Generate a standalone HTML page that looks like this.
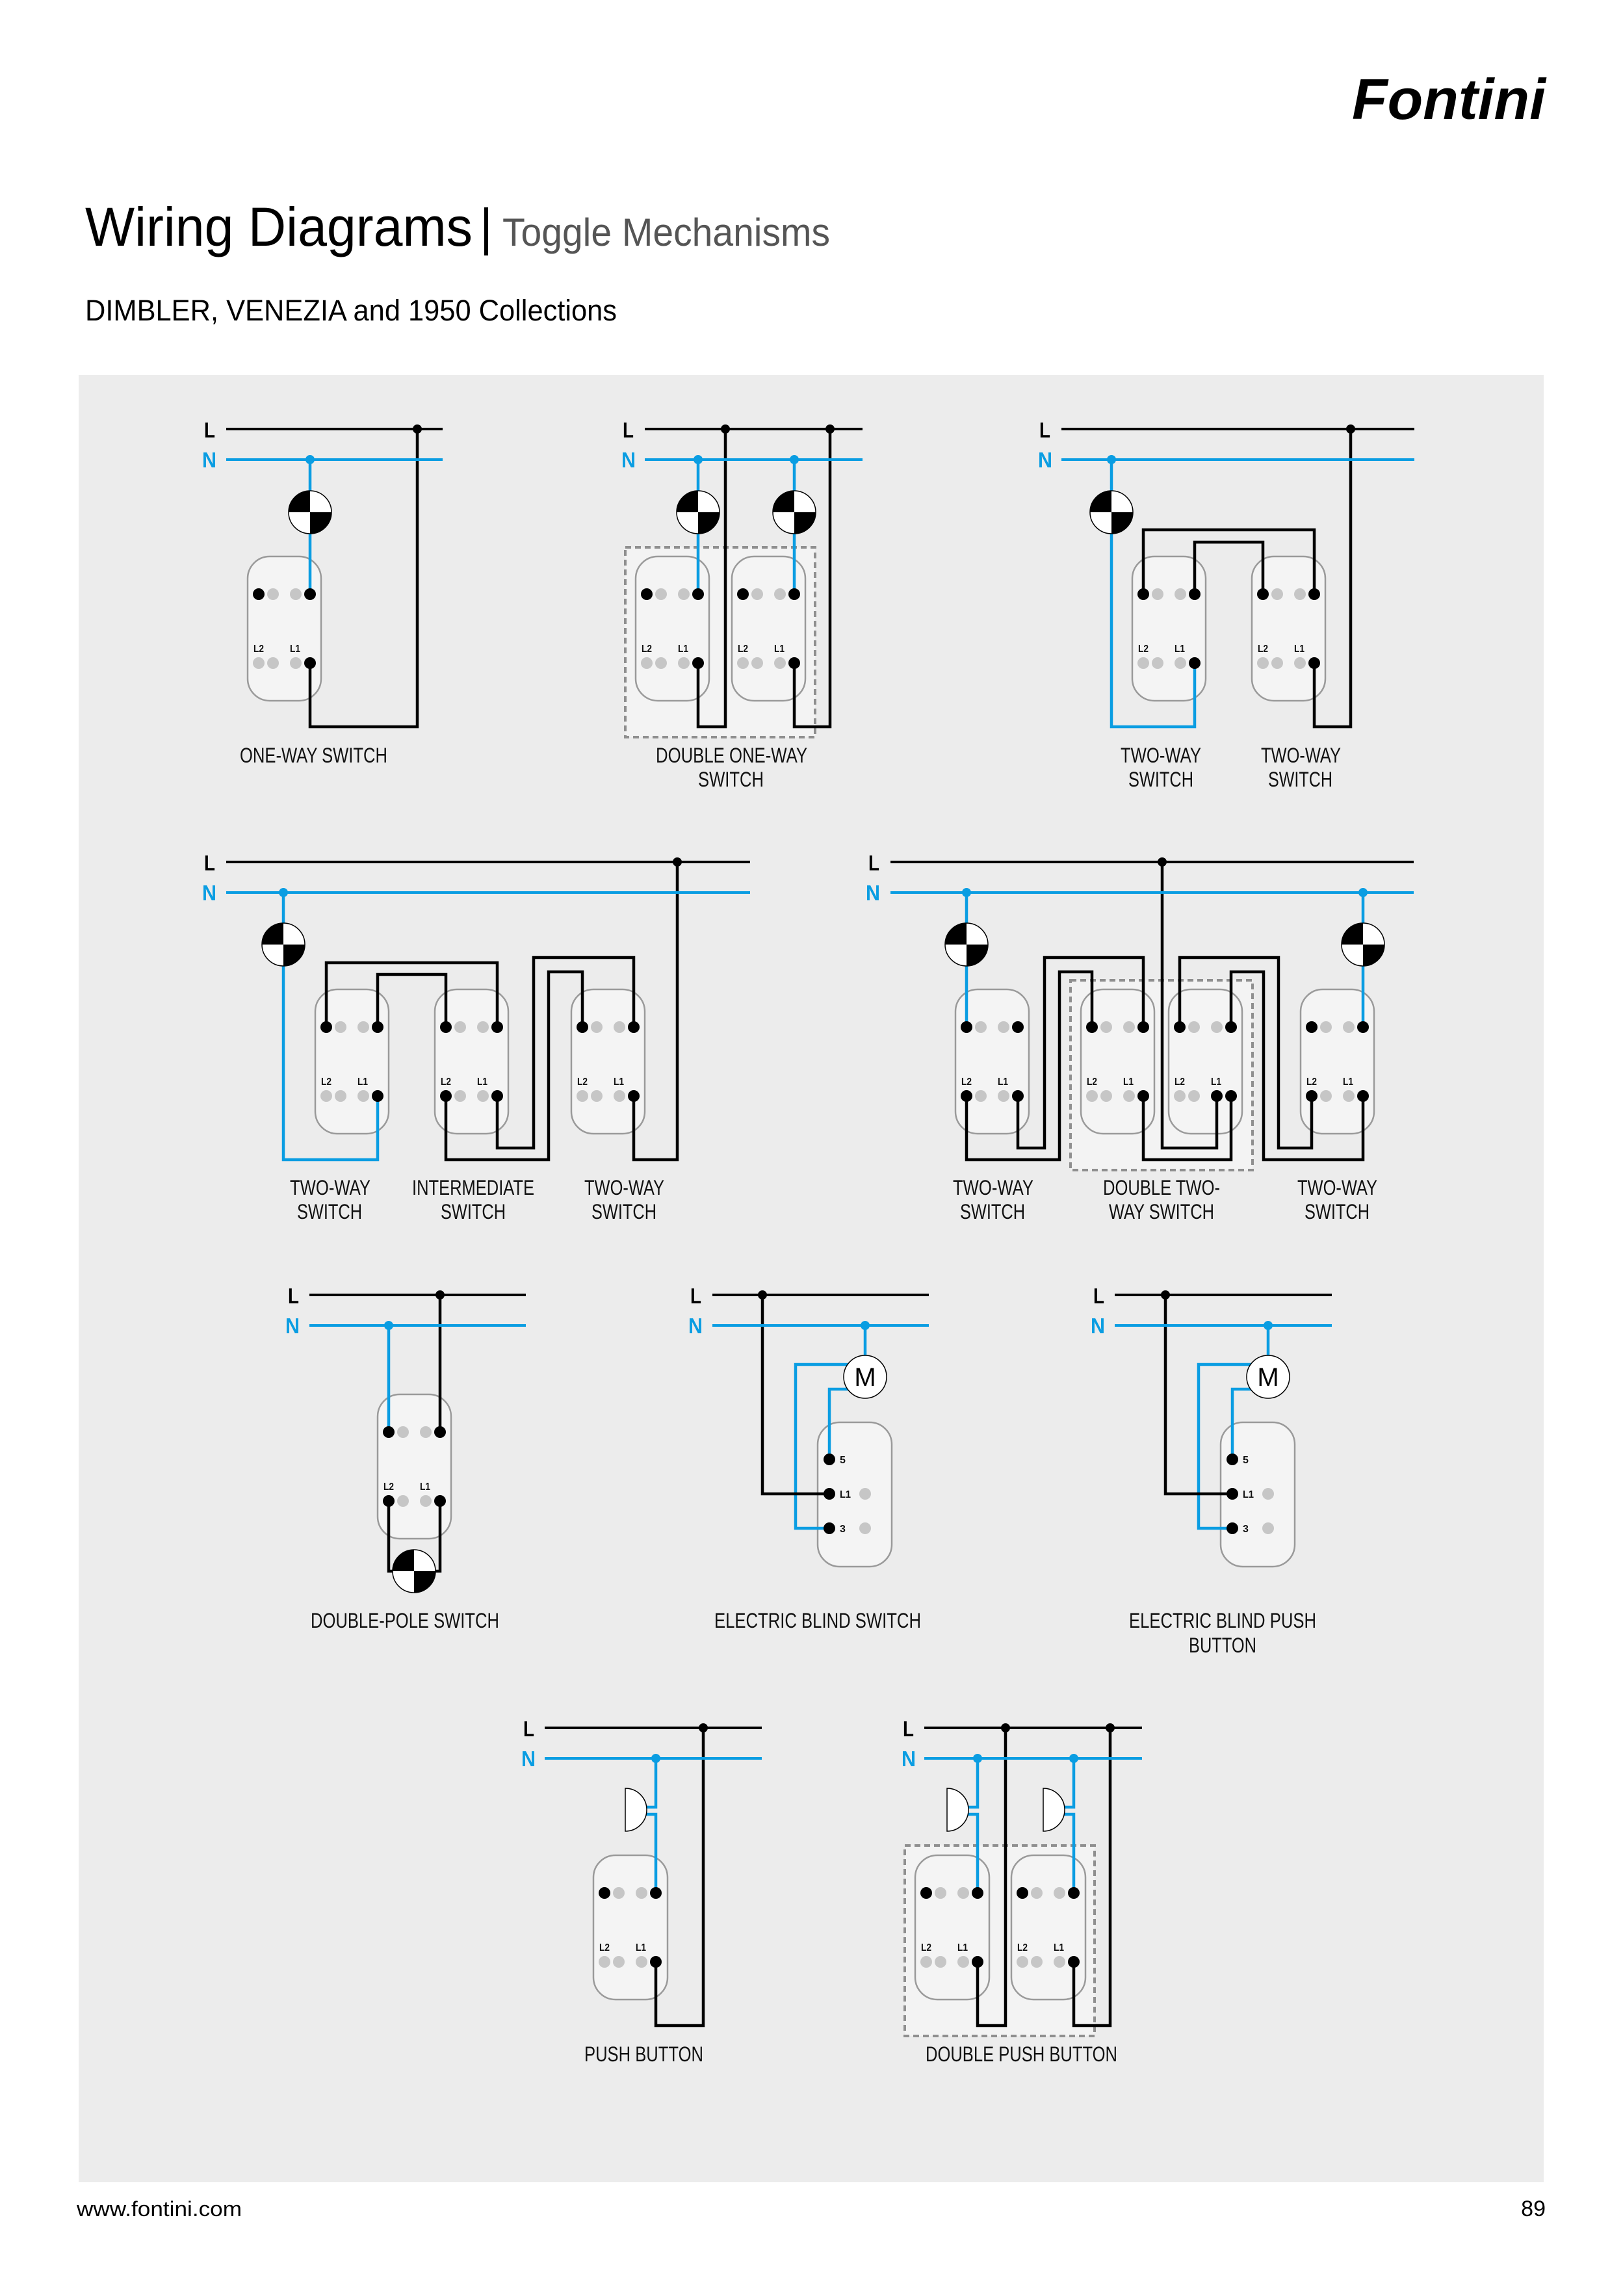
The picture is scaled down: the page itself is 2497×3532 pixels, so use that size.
<!DOCTYPE html>
<html>
<head>
<meta charset="utf-8">
<style>
html,body{margin:0;padding:0;background:#fff;}
svg{display:block;}
.bl{stroke:#000;stroke-width:4;fill:none;}
.bn{stroke:#0a9de2;stroke-width:4;fill:none;}
.w{stroke:#000;stroke-width:4.5;fill:none;stroke-linejoin:miter;}
.wb{stroke:#0a9de2;stroke-width:4.5;fill:none;stroke-linejoin:miter;}
.box{fill:#f4f4f4;stroke:#9a9a9a;stroke-width:2.5;}
.dash{fill:#f3f3f3;stroke:#8f8f8f;stroke-width:4;stroke-dasharray:9 6;}
.tb{fill:#000;}
.tg{fill:#c6c6c6;}
.jb{fill:#000;}
.jn{fill:#0a9de2;}
.lbl{font-family:"Liberation Sans",sans-serif;font-size:32px;fill:#111;}
.sl{font-family:"Liberation Sans",sans-serif;font-size:16px;font-weight:bold;fill:#111;}
.LL{font-family:"Liberation Sans",sans-serif;font-size:33px;font-weight:bold;fill:#000;}
.NN{font-family:"Liberation Sans",sans-serif;font-size:33px;font-weight:bold;fill:#0a9de2;}
.lampo{fill:#fff;stroke:#000;stroke-width:1.5;}
</style>
</head>
<body>
<svg xmlns="http://www.w3.org/2000/svg" width="2497" height="3532" viewBox="0 0 2497 3532">
<rect x="0" y="0" width="2497" height="3532" fill="#fff"/>

<!-- Header -->
<text transform="translate(2080,183) scale(1,1.1)" x="0" y="0" font-family="Liberation Sans, sans-serif" font-size="80" font-weight="bold" font-style="italic" fill="#000" textLength="298" lengthAdjust="spacingAndGlyphs">Fontini</text>
<text x="131" y="378" font-family="Liberation Sans, sans-serif" font-size="84" fill="#000" textLength="596" lengthAdjust="spacingAndGlyphs">Wiring Diagrams</text>
<rect x="745" y="319" width="6" height="74" fill="#000"/>
<text x="773" y="378" font-family="Liberation Sans, sans-serif" font-size="60" fill="#555" textLength="504" lengthAdjust="spacingAndGlyphs">Toggle Mechanisms</text>
<text x="131" y="493" font-family="Liberation Sans, sans-serif" font-size="45" fill="#000" textLength="818" lengthAdjust="spacingAndGlyphs">DIMBLER, VENEZIA and 1950 Collections</text>

<!-- Gray panel -->
<rect x="121" y="577" width="2254" height="2780" fill="#ececec"/>

<!-- ============ ROW 1 ============ -->
<!-- D1 one-way -->
<rect class="box" x="381" y="856" width="113" height="222" rx="34"/>
<path class="w" d="M642,660 V1118 H477 V1020"/>
<path class="wb" d="M477,707 V914"/>
<line class="bl" x1="348" y1="660" x2="681" y2="660"/>
<line class="bn" x1="348" y1="707" x2="681" y2="707"/>
<circle class="tb" cx="398" cy="914" r="9"/><circle class="tg" cx="420" cy="914" r="9"/><circle class="tg" cx="455" cy="914" r="9"/><circle class="tb" cx="477" cy="914" r="9"/>
<circle class="tg" cx="398" cy="1020" r="9"/><circle class="tg" cx="420" cy="1020" r="9"/><circle class="tg" cx="455" cy="1020" r="9"/><circle class="tb" cx="477" cy="1020" r="9"/>
<text class="sl" x="390" y="1003" textLength="16" lengthAdjust="spacingAndGlyphs">L2</text><text class="sl" x="446" y="1003" textLength="16" lengthAdjust="spacingAndGlyphs">L1</text>
<circle class="lampo" cx="477" cy="788" r="33"/><path d="M477,788 V755 A33,33 0 0 0 444,788 Z"/><path d="M477,788 H510 A33,33 0 0 1 477,821 Z"/>
<circle class="jb" cx="642" cy="660" r="7"/><circle class="jn" cx="477" cy="707" r="7"/>
<text class="LL" x="314" y="673" textLength="17" lengthAdjust="spacingAndGlyphs">L</text>
<text class="NN" x="311" y="719" textLength="22" lengthAdjust="spacingAndGlyphs">N</text>
<text class="lbl" x="369" y="1173" textLength="227" lengthAdjust="spacingAndGlyphs">ONE-WAY SWITCH</text>

<!-- D2 double one-way -->
<rect class="dash" x="962" y="842" width="292" height="292"/>
<rect class="box" x="978" y="856" width="113" height="222" rx="34"/>
<rect class="box" x="1126" y="856" width="113" height="222" rx="34"/>
<path class="w" d="M1116,660 V1118 H1074 V1020"/>
<path class="w" d="M1277,660 V1118 H1222 V1020"/>
<path class="wb" d="M1074,707 V914"/>
<path class="wb" d="M1222,707 V914"/>
<line class="bl" x1="992" y1="660" x2="1327" y2="660"/>
<line class="bn" x1="992" y1="707" x2="1327" y2="707"/>
<circle class="tb" cx="995" cy="914" r="9"/><circle class="tg" cx="1017" cy="914" r="9"/><circle class="tg" cx="1052" cy="914" r="9"/><circle class="tb" cx="1074" cy="914" r="9"/>
<circle class="tg" cx="995" cy="1020" r="9"/><circle class="tg" cx="1017" cy="1020" r="9"/><circle class="tg" cx="1052" cy="1020" r="9"/><circle class="tb" cx="1074" cy="1020" r="9"/>
<circle class="tb" cx="1143" cy="914" r="9"/><circle class="tg" cx="1165" cy="914" r="9"/><circle class="tg" cx="1200" cy="914" r="9"/><circle class="tb" cx="1222" cy="914" r="9"/>
<circle class="tg" cx="1143" cy="1020" r="9"/><circle class="tg" cx="1165" cy="1020" r="9"/><circle class="tg" cx="1200" cy="1020" r="9"/><circle class="tb" cx="1222" cy="1020" r="9"/>
<text class="sl" x="987" y="1003" textLength="16" lengthAdjust="spacingAndGlyphs">L2</text><text class="sl" x="1043" y="1003" textLength="16" lengthAdjust="spacingAndGlyphs">L1</text>
<text class="sl" x="1135" y="1003" textLength="16" lengthAdjust="spacingAndGlyphs">L2</text><text class="sl" x="1191" y="1003" textLength="16" lengthAdjust="spacingAndGlyphs">L1</text>
<circle class="lampo" cx="1074" cy="788" r="33"/><path d="M1074,788 V755 A33,33 0 0 0 1041,788 Z"/><path d="M1074,788 H1107 A33,33 0 0 1 1074,821 Z"/>
<circle class="lampo" cx="1222" cy="788" r="33"/><path d="M1222,788 V755 A33,33 0 0 0 1189,788 Z"/><path d="M1222,788 H1255 A33,33 0 0 1 1222,821 Z"/>
<circle class="jb" cx="1116" cy="660" r="7"/><circle class="jb" cx="1277" cy="660" r="7"/>
<circle class="jn" cx="1074" cy="707" r="7"/><circle class="jn" cx="1222" cy="707" r="7"/>
<text class="LL" x="958" y="673" textLength="17" lengthAdjust="spacingAndGlyphs">L</text>
<text class="NN" x="956" y="719" textLength="22" lengthAdjust="spacingAndGlyphs">N</text>
<text class="lbl" x="1009" y="1173" textLength="233" lengthAdjust="spacingAndGlyphs">DOUBLE ONE-WAY</text>
<text class="lbl" x="1074" y="1210" textLength="101" lengthAdjust="spacingAndGlyphs">SWITCH</text>

<!-- D3 two-way pair -->
<rect class="box" x="1742" y="856" width="113" height="222" rx="34"/>
<rect class="box" x="1926" y="856" width="113" height="222" rx="34"/>
<path class="w" d="M1759,914 V815 H2022 V914"/>
<path class="w" d="M1838,914 V834 H1943 V914"/>
<path class="w" d="M2022,1020 V1118 H2078 V660"/>
<path class="wb" d="M1710,707 V1118 H1838 V1020"/>
<line class="bl" x1="1633" y1="660" x2="2176" y2="660"/>
<line class="bn" x1="1633" y1="707" x2="2176" y2="707"/>
<circle class="tb" cx="1759" cy="914" r="9"/><circle class="tg" cx="1781" cy="914" r="9"/><circle class="tg" cx="1816" cy="914" r="9"/><circle class="tb" cx="1838" cy="914" r="9"/>
<circle class="tg" cx="1759" cy="1020" r="9"/><circle class="tg" cx="1781" cy="1020" r="9"/><circle class="tg" cx="1816" cy="1020" r="9"/><circle class="tb" cx="1838" cy="1020" r="9"/>
<circle class="tb" cx="1943" cy="914" r="9"/><circle class="tg" cx="1965" cy="914" r="9"/><circle class="tg" cx="2000" cy="914" r="9"/><circle class="tb" cx="2022" cy="914" r="9"/>
<circle class="tg" cx="1943" cy="1020" r="9"/><circle class="tg" cx="1965" cy="1020" r="9"/><circle class="tg" cx="2000" cy="1020" r="9"/><circle class="tb" cx="2022" cy="1020" r="9"/>
<text class="sl" x="1751" y="1003" textLength="16" lengthAdjust="spacingAndGlyphs">L2</text><text class="sl" x="1807" y="1003" textLength="16" lengthAdjust="spacingAndGlyphs">L1</text>
<text class="sl" x="1935" y="1003" textLength="16" lengthAdjust="spacingAndGlyphs">L2</text><text class="sl" x="1991" y="1003" textLength="16" lengthAdjust="spacingAndGlyphs">L1</text>
<circle class="lampo" cx="1710" cy="788" r="33"/><path d="M1710,788 V755 A33,33 0 0 0 1677,788 Z"/><path d="M1710,788 H1743 A33,33 0 0 1 1710,821 Z"/>
<circle class="jb" cx="2078" cy="660" r="7"/><circle class="jn" cx="1710" cy="707" r="7"/>
<text class="LL" x="1599" y="673" textLength="17" lengthAdjust="spacingAndGlyphs">L</text>
<text class="NN" x="1597" y="719" textLength="22" lengthAdjust="spacingAndGlyphs">N</text>
<text class="lbl" x="1724" y="1173" textLength="124" lengthAdjust="spacingAndGlyphs">TWO-WAY</text>
<text class="lbl" x="1736" y="1210" textLength="100" lengthAdjust="spacingAndGlyphs">SWITCH</text>
<text class="lbl" x="1940" y="1173" textLength="123" lengthAdjust="spacingAndGlyphs">TWO-WAY</text>
<text class="lbl" x="1951" y="1210" textLength="99" lengthAdjust="spacingAndGlyphs">SWITCH</text>

<!-- ============ ROW 2 ============ -->
<!-- D1 two-way / intermediate / two-way -->
<rect class="box" x="485" y="1522" width="113" height="222" rx="34"/>
<rect class="box" x="669" y="1522" width="113" height="222" rx="34"/>
<rect class="box" x="879" y="1522" width="113" height="222" rx="34"/>
<path class="w" d="M502,1580 V1481 H765 V1580"/>
<path class="w" d="M581,1580 V1499 H686 V1580"/>
<path class="w" d="M765,1686 V1766 H821 V1473 H975 V1580"/>
<path class="w" d="M686,1686 V1784 H844 V1495 H896 V1580"/>
<path class="w" d="M975,1686 V1784 H1042 V1326"/>
<path class="wb" d="M436,1373 V1784 H581 V1686"/>
<line class="bl" x1="348" y1="1326" x2="1154" y2="1326"/>
<line class="bn" x1="348" y1="1373" x2="1154" y2="1373"/>
<circle class="tb" cx="502" cy="1580" r="9"/><circle class="tg" cx="524" cy="1580" r="9"/><circle class="tg" cx="559" cy="1580" r="9"/><circle class="tb" cx="581" cy="1580" r="9"/>
<circle class="tg" cx="502" cy="1686" r="9"/><circle class="tg" cx="524" cy="1686" r="9"/><circle class="tg" cx="559" cy="1686" r="9"/><circle class="tb" cx="581" cy="1686" r="9"/>
<circle class="tb" cx="686" cy="1580" r="9"/><circle class="tg" cx="708" cy="1580" r="9"/><circle class="tg" cx="743" cy="1580" r="9"/><circle class="tb" cx="765" cy="1580" r="9"/>
<circle class="tb" cx="686" cy="1686" r="9"/><circle class="tg" cx="708" cy="1686" r="9"/><circle class="tg" cx="743" cy="1686" r="9"/><circle class="tb" cx="765" cy="1686" r="9"/>
<circle class="tb" cx="896" cy="1580" r="9"/><circle class="tg" cx="918" cy="1580" r="9"/><circle class="tg" cx="953" cy="1580" r="9"/><circle class="tb" cx="975" cy="1580" r="9"/>
<circle class="tg" cx="896" cy="1686" r="9"/><circle class="tg" cx="918" cy="1686" r="9"/><circle class="tg" cx="953" cy="1686" r="9"/><circle class="tb" cx="975" cy="1686" r="9"/>
<text class="sl" x="494" y="1669" textLength="16" lengthAdjust="spacingAndGlyphs">L2</text><text class="sl" x="550" y="1669" textLength="16" lengthAdjust="spacingAndGlyphs">L1</text>
<text class="sl" x="678" y="1669" textLength="16" lengthAdjust="spacingAndGlyphs">L2</text><text class="sl" x="734" y="1669" textLength="16" lengthAdjust="spacingAndGlyphs">L1</text>
<text class="sl" x="888" y="1669" textLength="16" lengthAdjust="spacingAndGlyphs">L2</text><text class="sl" x="944" y="1669" textLength="16" lengthAdjust="spacingAndGlyphs">L1</text>
<circle class="lampo" cx="436" cy="1453" r="33"/><path d="M436,1453 V1420 A33,33 0 0 0 403,1453 Z"/><path d="M436,1453 H469 A33,33 0 0 1 436,1486 Z"/>
<circle class="jb" cx="1042" cy="1326" r="7"/><circle class="jn" cx="436" cy="1373" r="7"/>
<text class="LL" x="314" y="1339" textLength="17" lengthAdjust="spacingAndGlyphs">L</text>
<text class="NN" x="311" y="1385" textLength="22" lengthAdjust="spacingAndGlyphs">N</text>
<text class="lbl" x="446" y="1838" textLength="124" lengthAdjust="spacingAndGlyphs">TWO-WAY</text>
<text class="lbl" x="457" y="1875" textLength="100" lengthAdjust="spacingAndGlyphs">SWITCH</text>
<text class="lbl" x="634" y="1838" textLength="188" lengthAdjust="spacingAndGlyphs">INTERMEDIATE</text>
<text class="lbl" x="678" y="1875" textLength="100" lengthAdjust="spacingAndGlyphs">SWITCH</text>
<text class="lbl" x="899" y="1838" textLength="123" lengthAdjust="spacingAndGlyphs">TWO-WAY</text>
<text class="lbl" x="910" y="1875" textLength="100" lengthAdjust="spacingAndGlyphs">SWITCH</text>

<!-- D2 two-way / double two-way / two-way -->
<rect class="dash" x="1647" y="1508" width="280" height="292"/>
<rect class="box" x="1470" y="1522" width="113" height="222" rx="34"/>
<rect class="box" x="1663" y="1522" width="113" height="222" rx="34"/>
<rect class="box" x="1798" y="1522" width="113" height="222" rx="34"/>
<rect class="box" x="2001" y="1522" width="113" height="222" rx="34"/>
<path class="w" d="M1788,1326 V1766 H1872 V1686"/>
<path class="w" d="M1566,1686 V1766 H1607 V1473 H1759 V1580"/>
<path class="w" d="M1487,1686 V1784 H1630 V1495 H1680 V1580"/>
<path class="w" d="M1759,1686 V1784 H1894 V1686"/>
<path class="w" d="M1815,1580 V1473 H1967 V1766 H2018 V1686"/>
<path class="w" d="M1894,1580 V1495 H1944 V1784 H2097 V1686"/>
<path class="wb" d="M1487,1373 V1580"/>
<path class="wb" d="M2097,1373 V1580"/>
<line class="bl" x1="1370" y1="1326" x2="2175" y2="1326"/>
<line class="bn" x1="1370" y1="1373" x2="2175" y2="1373"/>
<circle class="tb" cx="1487" cy="1580" r="9"/><circle class="tg" cx="1509" cy="1580" r="9"/><circle class="tg" cx="1544" cy="1580" r="9"/><circle class="tb" cx="1566" cy="1580" r="9"/>
<circle class="tb" cx="1487" cy="1686" r="9"/><circle class="tg" cx="1509" cy="1686" r="9"/><circle class="tg" cx="1544" cy="1686" r="9"/><circle class="tb" cx="1566" cy="1686" r="9"/>
<circle class="tb" cx="1680" cy="1580" r="9"/><circle class="tg" cx="1702" cy="1580" r="9"/><circle class="tg" cx="1737" cy="1580" r="9"/><circle class="tb" cx="1759" cy="1580" r="9"/>
<circle class="tg" cx="1680" cy="1686" r="9"/><circle class="tg" cx="1702" cy="1686" r="9"/><circle class="tg" cx="1737" cy="1686" r="9"/><circle class="tb" cx="1759" cy="1686" r="9"/>
<circle class="tb" cx="1815" cy="1580" r="9"/><circle class="tg" cx="1837" cy="1580" r="9"/><circle class="tg" cx="1872" cy="1580" r="9"/><circle class="tb" cx="1894" cy="1580" r="9"/>
<circle class="tg" cx="1815" cy="1686" r="9"/><circle class="tg" cx="1837" cy="1686" r="9"/><circle class="tb" cx="1872" cy="1686" r="9"/><circle class="tb" cx="1894" cy="1686" r="9"/>
<circle class="tb" cx="2018" cy="1580" r="9"/><circle class="tg" cx="2040" cy="1580" r="9"/><circle class="tg" cx="2075" cy="1580" r="9"/><circle class="tb" cx="2097" cy="1580" r="9"/>
<circle class="tb" cx="2018" cy="1686" r="9"/><circle class="tg" cx="2040" cy="1686" r="9"/><circle class="tg" cx="2075" cy="1686" r="9"/><circle class="tb" cx="2097" cy="1686" r="9"/>
<text class="sl" x="1479" y="1669" textLength="16" lengthAdjust="spacingAndGlyphs">L2</text><text class="sl" x="1535" y="1669" textLength="16" lengthAdjust="spacingAndGlyphs">L1</text>
<text class="sl" x="1672" y="1669" textLength="16" lengthAdjust="spacingAndGlyphs">L2</text><text class="sl" x="1728" y="1669" textLength="16" lengthAdjust="spacingAndGlyphs">L1</text>
<text class="sl" x="1807" y="1669" textLength="16" lengthAdjust="spacingAndGlyphs">L2</text><text class="sl" x="1863" y="1669" textLength="16" lengthAdjust="spacingAndGlyphs">L1</text>
<text class="sl" x="2010" y="1669" textLength="16" lengthAdjust="spacingAndGlyphs">L2</text><text class="sl" x="2066" y="1669" textLength="16" lengthAdjust="spacingAndGlyphs">L1</text>
<circle class="lampo" cx="1487" cy="1453" r="33"/><path d="M1487,1453 V1420 A33,33 0 0 0 1454,1453 Z"/><path d="M1487,1453 H1520 A33,33 0 0 1 1487,1486 Z"/>
<circle class="lampo" cx="2097" cy="1453" r="33"/><path d="M2097,1453 V1420 A33,33 0 0 0 2064,1453 Z"/><path d="M2097,1453 H2130 A33,33 0 0 1 2097,1486 Z"/>
<circle class="jb" cx="1788" cy="1326" r="7"/>
<circle class="jn" cx="1487" cy="1373" r="7"/><circle class="jn" cx="2097" cy="1373" r="7"/>
<text class="LL" x="1336" y="1339" textLength="17" lengthAdjust="spacingAndGlyphs">L</text>
<text class="NN" x="1332" y="1385" textLength="22" lengthAdjust="spacingAndGlyphs">N</text>
<text class="lbl" x="1466" y="1838" textLength="124" lengthAdjust="spacingAndGlyphs">TWO-WAY</text>
<text class="lbl" x="1477" y="1875" textLength="100" lengthAdjust="spacingAndGlyphs">SWITCH</text>
<text class="lbl" x="1697" y="1838" textLength="180" lengthAdjust="spacingAndGlyphs">DOUBLE TWO-</text>
<text class="lbl" x="1706" y="1875" textLength="162" lengthAdjust="spacingAndGlyphs">WAY SWITCH</text>
<text class="lbl" x="1996" y="1838" textLength="123" lengthAdjust="spacingAndGlyphs">TWO-WAY</text>
<text class="lbl" x="2007" y="1875" textLength="100" lengthAdjust="spacingAndGlyphs">SWITCH</text>

<!-- ============ ROW 3 ============ -->
<!-- D1 double-pole -->
<rect class="box" x="581" y="2145" width="113" height="222" rx="34"/>
<path class="wb" d="M598,2039 V2203"/>
<path class="w" d="M677,1992 V2203"/>
<path class="w" d="M598,2309 V2417 H677 V2309"/>
<line class="bl" x1="476" y1="1992" x2="809" y2="1992"/>
<line class="bn" x1="476" y1="2039" x2="809" y2="2039"/>
<circle class="tb" cx="598" cy="2203" r="9"/><circle class="tg" cx="620" cy="2203" r="9"/><circle class="tg" cx="655" cy="2203" r="9"/><circle class="tb" cx="677" cy="2203" r="9"/>
<circle class="tb" cx="598" cy="2309" r="9"/><circle class="tg" cx="620" cy="2309" r="9"/><circle class="tg" cx="655" cy="2309" r="9"/><circle class="tb" cx="677" cy="2309" r="9"/>
<text class="sl" x="590" y="2292" textLength="16" lengthAdjust="spacingAndGlyphs">L2</text><text class="sl" x="646" y="2292" textLength="16" lengthAdjust="spacingAndGlyphs">L1</text>
<circle class="lampo" cx="637" cy="2417" r="33"/><path d="M637,2417 V2384 A33,33 0 0 0 604,2417 Z"/><path d="M637,2417 H670 A33,33 0 0 1 637,2450 Z"/>
<circle class="jb" cx="677" cy="1992" r="7"/><circle class="jn" cx="598" cy="2039" r="7"/>
<text class="LL" x="443" y="2005" textLength="17" lengthAdjust="spacingAndGlyphs">L</text>
<text class="NN" x="439" y="2051" textLength="22" lengthAdjust="spacingAndGlyphs">N</text>
<text class="lbl" x="478" y="2504" textLength="290" lengthAdjust="spacingAndGlyphs">DOUBLE-POLE SWITCH</text>

<!-- D2 electric blind switch -->
<rect class="box" x="1258" y="2188" width="114" height="222" rx="34"/>
<path class="wb" d="M1331,2039 V2100"/>
<path class="wb" d="M1320,2137 H1276 V2245"/>
<path class="wb" d="M1320,2099 H1224 V2351 H1276"/>
<path class="w" d="M1173,1992 V2298 H1276"/>
<line class="bl" x1="1096" y1="1992" x2="1429" y2="1992"/>
<line class="bn" x1="1096" y1="2039" x2="1429" y2="2039"/>
<circle class="tb" cx="1276" cy="2245" r="9"/>
<circle class="tb" cx="1276" cy="2298" r="9"/><circle class="tg" cx="1331" cy="2298" r="9"/>
<circle class="tb" cx="1276" cy="2351" r="9"/><circle class="tg" cx="1331" cy="2351" r="9"/>
<text class="sl" x="1292" y="2251" font-size="17">5</text>
<text class="sl" x="1292" y="2304" textLength="17" lengthAdjust="spacingAndGlyphs">L1</text>
<text class="sl" x="1292" y="2357" font-size="17">3</text>
<circle class="lampo" cx="1331" cy="2118" r="33"/>
<text x="1331" y="2132" text-anchor="middle" font-family="Liberation Sans, sans-serif" font-size="40" fill="#000">M</text>
<circle class="jb" cx="1173" cy="1992" r="7"/><circle class="jn" cx="1331" cy="2039" r="7"/>
<text class="LL" x="1062" y="2005" textLength="17" lengthAdjust="spacingAndGlyphs">L</text>
<text class="NN" x="1059" y="2051" textLength="22" lengthAdjust="spacingAndGlyphs">N</text>
<text class="lbl" x="1099" y="2504" textLength="318" lengthAdjust="spacingAndGlyphs">ELECTRIC BLIND SWITCH</text>

<!-- D3 electric blind push button -->
<rect class="box" x="1878" y="2188" width="114" height="222" rx="34"/>
<path class="wb" d="M1951,2039 V2100"/>
<path class="wb" d="M1940,2137 H1896 V2245"/>
<path class="wb" d="M1940,2099 H1844 V2351 H1896"/>
<path class="w" d="M1793,1992 V2298 H1896"/>
<line class="bl" x1="1715" y1="1992" x2="2049" y2="1992"/>
<line class="bn" x1="1715" y1="2039" x2="2049" y2="2039"/>
<circle class="tb" cx="1896" cy="2245" r="9"/>
<circle class="tb" cx="1896" cy="2298" r="9"/><circle class="tg" cx="1951" cy="2298" r="9"/>
<circle class="tb" cx="1896" cy="2351" r="9"/><circle class="tg" cx="1951" cy="2351" r="9"/>
<text class="sl" x="1912" y="2251" font-size="17">5</text>
<text class="sl" x="1912" y="2304" textLength="17" lengthAdjust="spacingAndGlyphs">L1</text>
<text class="sl" x="1912" y="2357" font-size="17">3</text>
<circle class="lampo" cx="1951" cy="2118" r="33"/>
<text x="1951" y="2132" text-anchor="middle" font-family="Liberation Sans, sans-serif" font-size="40" fill="#000">M</text>
<circle class="jb" cx="1793" cy="1992" r="7"/><circle class="jn" cx="1951" cy="2039" r="7"/>
<text class="LL" x="1682" y="2005" textLength="17" lengthAdjust="spacingAndGlyphs">L</text>
<text class="NN" x="1678" y="2051" textLength="22" lengthAdjust="spacingAndGlyphs">N</text>
<text class="lbl" x="1737" y="2504" textLength="288" lengthAdjust="spacingAndGlyphs">ELECTRIC BLIND PUSH</text>
<text class="lbl" x="1829" y="2542" textLength="104" lengthAdjust="spacingAndGlyphs">BUTTON</text>

<!-- ============ ROW 4 ============ -->
<!-- D1 push button -->
<rect class="box" x="913" y="2854" width="114" height="222" rx="34"/>
<path class="wb" d="M1009,2705 V2780 H975"/>
<path class="wb" d="M975,2791 H1009 V2912"/>
<path class="w" d="M1009,3018 V3116 H1082 V2658"/>
<line class="bl" x1="838" y1="2658" x2="1172" y2="2658"/>
<line class="bn" x1="838" y1="2705" x2="1172" y2="2705"/>
<circle class="tb" cx="930" cy="2912" r="9"/><circle class="tg" cx="952" cy="2912" r="9"/><circle class="tg" cx="987" cy="2912" r="9"/><circle class="tb" cx="1009" cy="2912" r="9"/>
<circle class="tg" cx="930" cy="3018" r="9"/><circle class="tg" cx="952" cy="3018" r="9"/><circle class="tg" cx="987" cy="3018" r="9"/><circle class="tb" cx="1009" cy="3018" r="9"/>
<text class="sl" x="922" y="3001" textLength="16" lengthAdjust="spacingAndGlyphs">L2</text><text class="sl" x="978" y="3001" textLength="16" lengthAdjust="spacingAndGlyphs">L1</text>
<path class="lampo" d="M962,2751 A33,33 0 0 1 962,2817 Z"/>
<circle class="jb" cx="1082" cy="2658" r="7"/><circle class="jn" cx="1009" cy="2705" r="7"/>
<text class="LL" x="805" y="2671" textLength="17" lengthAdjust="spacingAndGlyphs">L</text>
<text class="NN" x="802" y="2717" textLength="22" lengthAdjust="spacingAndGlyphs">N</text>
<text class="lbl" x="899" y="3171" textLength="183" lengthAdjust="spacingAndGlyphs">PUSH BUTTON</text>

<!-- D2 double push button -->
<rect class="dash" x="1392" y="2839" width="292" height="293"/>
<rect class="box" x="1408" y="2854" width="114" height="222" rx="34"/>
<rect class="box" x="1556" y="2854" width="114" height="222" rx="34"/>
<path class="wb" d="M1504,2705 V2780 H1470"/>
<path class="wb" d="M1470,2791 H1504 V2912"/>
<path class="wb" d="M1652,2705 V2780 H1618"/>
<path class="wb" d="M1618,2791 H1652 V2912"/>
<path class="w" d="M1504,3018 V3116 H1547 V2658"/>
<path class="w" d="M1652,3018 V3116 H1708 V2658"/>
<line class="bl" x1="1422" y1="2658" x2="1757" y2="2658"/>
<line class="bn" x1="1422" y1="2705" x2="1757" y2="2705"/>
<circle class="tb" cx="1425" cy="2912" r="9"/><circle class="tg" cx="1447" cy="2912" r="9"/><circle class="tg" cx="1482" cy="2912" r="9"/><circle class="tb" cx="1504" cy="2912" r="9"/>
<circle class="tg" cx="1425" cy="3018" r="9"/><circle class="tg" cx="1447" cy="3018" r="9"/><circle class="tg" cx="1482" cy="3018" r="9"/><circle class="tb" cx="1504" cy="3018" r="9"/>
<circle class="tb" cx="1573" cy="2912" r="9"/><circle class="tg" cx="1595" cy="2912" r="9"/><circle class="tg" cx="1630" cy="2912" r="9"/><circle class="tb" cx="1652" cy="2912" r="9"/>
<circle class="tg" cx="1573" cy="3018" r="9"/><circle class="tg" cx="1595" cy="3018" r="9"/><circle class="tg" cx="1630" cy="3018" r="9"/><circle class="tb" cx="1652" cy="3018" r="9"/>
<text class="sl" x="1417" y="3001" textLength="16" lengthAdjust="spacingAndGlyphs">L2</text><text class="sl" x="1473" y="3001" textLength="16" lengthAdjust="spacingAndGlyphs">L1</text>
<text class="sl" x="1565" y="3001" textLength="16" lengthAdjust="spacingAndGlyphs">L2</text><text class="sl" x="1621" y="3001" textLength="16" lengthAdjust="spacingAndGlyphs">L1</text>
<path class="lampo" d="M1457,2751 A33,33 0 0 1 1457,2817 Z"/>
<path class="lampo" d="M1605,2751 A33,33 0 0 1 1605,2817 Z"/>
<circle class="jb" cx="1547" cy="2658" r="7"/><circle class="jb" cx="1708" cy="2658" r="7"/>
<circle class="jn" cx="1504" cy="2705" r="7"/><circle class="jn" cx="1652" cy="2705" r="7"/>
<text class="LL" x="1389" y="2671" textLength="17" lengthAdjust="spacingAndGlyphs">L</text>
<text class="NN" x="1387" y="2717" textLength="22" lengthAdjust="spacingAndGlyphs">N</text>
<text class="lbl" x="1424" y="3171" textLength="295" lengthAdjust="spacingAndGlyphs">DOUBLE PUSH BUTTON</text>

<!-- Footer -->
<text x="118" y="3409" font-family="Liberation Sans, sans-serif" font-size="32" fill="#000" textLength="254" lengthAdjust="spacingAndGlyphs">www.fontini.com</text>
<text x="2378" y="3409" text-anchor="end" font-family="Liberation Sans, sans-serif" font-size="34" fill="#000">89</text>
</svg>
</body>
</html>
